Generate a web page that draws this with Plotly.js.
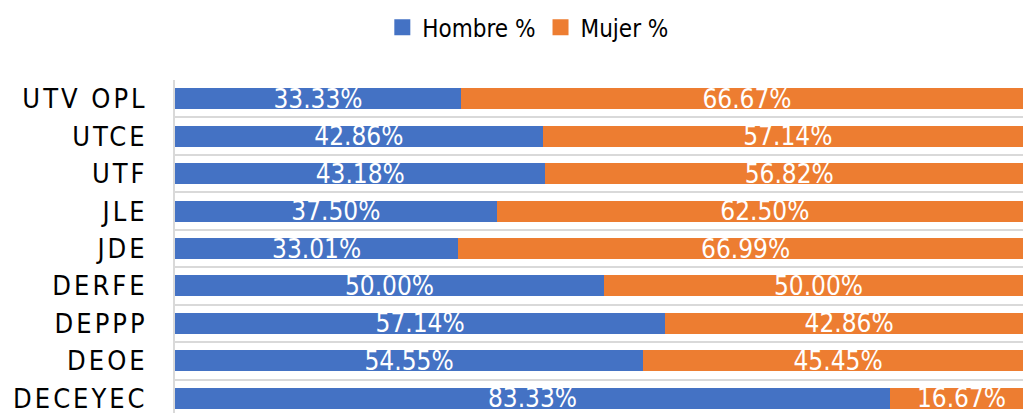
<!DOCTYPE html>
<html>
<head>
<meta charset="utf-8">
<script src="https://cdn.plot.ly/plotly-3.0.1.min.js"></script>
<style>
html, body { margin: 0; padding: 0; overflow: hidden; background: #fff; }
#chart { width: 1040px; height: 420px; }
.ytick text { letter-spacing: 3px; }
</style>
</head>
<body>
<div id="chart"></div>
<script>
const categories = ["UTV OPL", "UTCE", "UTF", "JLE", "JDE", "DERFE", "DEPPP", "DEOE", "DECEYEC"];
const hombre = [33.33, 42.86, 43.18, 37.50, 33.01, 50.00, 57.14, 54.55, 83.33];
const mujer  = [66.67, 57.14, 56.82, 62.50, 66.99, 50.00, 42.86, 45.45, 16.67];
const seriesNames = ["Hombre %", "Mujer %"];
const colors = ["#4472C4", "#ED7D31"];

const FONT = "'Liberation Sans Narrow', 'Arial Narrow', 'DejaVu Sans Condensed', 'Liberation Sans', sans-serif";

function barTrace(vals, name, color) {
  return {
    type: "bar", orientation: "h",
    x: vals, y: categories, name: name,
    marker: { color: color },
    width: 0.56,
    text: vals.map(v => v.toFixed(2) + "%"),
    textposition: "inside",
    insidetextanchor: "middle",
    textangle: 0,
    constraintext: "none",
    insidetextfont: { family: FONT, size: 26, color: "#ffffff" },
    showlegend: false,
    hoverinfo: "skip"
  };
}
function legendTrace(name, color) {
  return {
    type: "scatter", mode: "markers", x: [null], y: [null], name: name,
    marker: { symbol: "square", size: 16, color: color },
    showlegend: true, hoverinfo: "skip"
  };
}

const data = [
  barTrace(hombre, seriesNames[0], colors[0]),
  barTrace(mujer, seriesNames[1], colors[1]),
  legendTrace(seriesNames[0], colors[0]),
  legendTrace(seriesNames[1], colors[1])
];

const layout = {
  width: 1040, height: 420,
  margin: { l: 175, r: 7, t: 80, b: 3 },
  barmode: "stack",
  paper_bgcolor: "#ffffff", plot_bgcolor: "#ffffff",
  font: { family: FONT, color: "#000000" },
  xaxis: { range: [0, 100], showgrid: false, zeroline: false, showticklabels: false, showline: false, fixedrange: true },
  yaxis: {
    type: "category", autorange: "reversed",
    tickson: "boundaries", ticks: "",
    showgrid: true, gridcolor: "#d9d9d9", gridwidth: 2,
    showline: true, linecolor: "#d9d9d9", linewidth: 2,
    tickfont: { family: FONT, size: 27, color: "#000000" },
    ticklabelstandoff: 20
  },
  legend: {
    orientation: "h", xref: "container", yref: "container",
    traceorder: "normal",
    x: 0.508, xanchor: "center", y: 0.988, yanchor: "top",
    font: { family: FONT, size: 24, color: "#000000" },
    itemwidth: 30
  },
  showlegend: true
};

Plotly.newPlot("chart", data, layout, { displayModeBar: false, staticPlot: true });
</script>
</body>
</html>
